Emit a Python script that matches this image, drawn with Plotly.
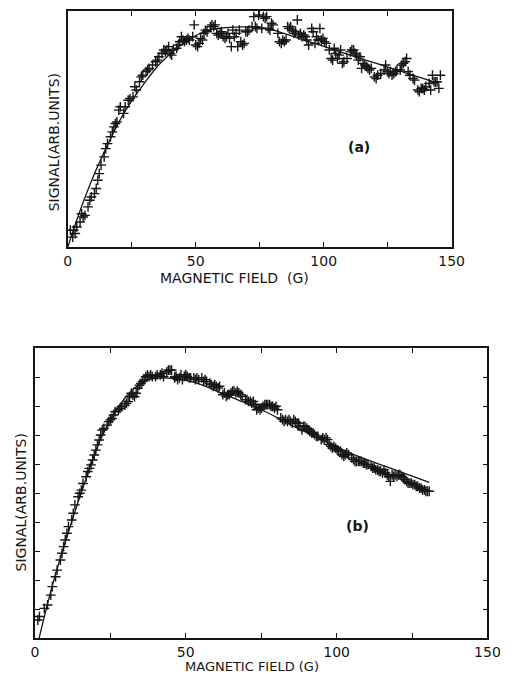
import plotly.graph_objects as go

# ---------------- panel (a) ----------------
field_a = [1.0,2.3,2.9,1.9,3.5,4.8,5.4,6.7,6.0,7.9,
           8.6,9.2,10.4,11.1,11.7,12.3,13.0,14.2,14.8,15.5,
           16.7,17.4,18.0,18.6,19.2,19.9,20.5,21.8,22.4,23.6,
           24.3,25.5,26.2,26.8,28.0,28.7,29.3,30.6,31.2,31.8,
           33.1,34.3,35.0,35.6,36.8,37.5,38.1,38.7,39.4,40.0,
           40.6,41.2,42.5,43.1,43.8,44.4,45.0,45.6,46.3,46.9,
           47.5,48.8,49.4,50.0,50.7,51.3,51.9,52.6,53.2,53.8,
           54.4,55.7,56.3,57.0,57.6,58.2,58.8,59.5,60.1,60.7,
           61.4,62.0,62.6,63.2,63.9,64.5,65.1,65.8,66.4,67.0,
           67.6,68.3,68.9,69.5,70.2,70.8,72.0,72.7,73.3,73.9,
           74.6,75.8,76.4,77.1,77.7,78.3,79.0,79.6,80.2,82.1,
           82.7,83.4,84.0,84.6,85.3,85.9,86.5,87.1,87.8,88.4,
           89.0,89.7,90.3,90.9,91.5,92.2,92.8,93.4,94.1,95.3,
           95.9,96.6,97.2,97.8,98.5,99.1,99.7,100.3,101.0,102.2,
           102.9,103.5,104.1,104.7,105.4,106.0,106.6,107.3,107.9,109.1,
           110.4,111.0,111.7,112.3,112.9,113.5,114.2,114.8,115.4,116.1,
           116.7,117.3,117.9,118.6,119.8,120.5,121.1,122.3,123.6,124.2,
           124.9,125.5,126.1,126.7,127.4,128.0,128.6,129.9,130.5,131.1,
           131.8,132.4,133.0,133.7,134.9,135.5,136.8,137.4,138.1,138.7,
           139.3,139.9,141.2,141.8,142.5,143.1,143.7,144.3,145.0,145.6]
signal_a = [7.1,7.1,5.7,4.2,8.5,10.6,14.1,13.4,12.7,17.0,
            19.8,21.2,22.6,24.8,28.3,31.1,34.7,38.2,41.7,43.8,
            46.7,48.8,50.9,52.3,53.0,58.0,59.4,56.6,59.4,62.2,
            62.9,63.6,67.9,66.5,70.0,72.1,72.8,74.3,75.0,75.7,
            77.1,78.5,79.2,80.6,82.0,83.5,82.7,83.5,84.9,82.0,
            81.3,83.5,84.2,85.6,87.0,89.1,87.7,87.0,87.7,88.4,
            87.7,89.1,94.1,85.6,84.9,86.3,88.4,87.7,90.5,91.9,
            91.2,93.4,94.1,93.4,94.1,90.5,89.8,90.5,91.2,89.1,
            88.4,89.1,90.5,88.4,84.9,91.9,89.1,90.5,84.9,91.9,
            87.0,85.6,86.3,91.2,91.2,91.9,93.4,97.6,93.4,92.6,
            98.3,92.6,97.6,96.9,97.6,92.6,91.9,94.8,94.1,90.5,
            87.0,86.3,87.7,87.0,87.7,93.4,92.6,93.4,91.9,90.5,
            91.2,96.2,89.8,90.5,89.1,89.8,89.1,87.7,85.6,92.6,
            91.2,86.3,89.1,87.7,92.6,87.7,88.4,87.0,86.3,83.5,
            79.9,79.2,84.2,82.0,79.9,81.3,83.5,77.8,78.5,79.9,
            82.7,83.5,83.5,82.0,81.3,79.2,80.6,75.7,77.8,77.1,
            76.4,75.7,75.0,75.7,72.1,71.4,72.8,73.5,75.0,77.1,
            74.3,73.5,74.3,72.8,73.5,74.3,75.0,75.0,77.1,77.8,
            78.5,79.9,74.3,72.8,71.4,70.7,66.5,65.8,67.2,67.2,
            66.5,67.9,69.3,66.5,72.8,70.0,70.0,70.0,67.2,72.8]
fit_a_field = [0,5,10,15,20,25,30,35,40,45,50,55,60,65,70,75,80,90,100,110,120,130,140,145]
fit_a_signal = [0,16,30,42,53,62,69.5,76.5,81.8,86.2,89.6,91.8,92.8,93.2,93.3,93.0,
                92.0,88.5,85.0,81.4,78.0,74.5,71.0,69.3]

# ---------------- panel (b) ----------------
field_b_rise = [0.96,1.50,3.10,4.17,5.24,5.77,6.84,7.37,8.44,8.97,
                9.51,10.04,10.58,11.11,12.18,12.71,13.25,14.32,14.85,15.38,
                15.92,16.99,17.52,18.06,18.59,19.12,19.66,20.19,20.73,21.26,
                21.79,22.33,22.86,23.93,24.47,25.00,25.53,26.07,26.60,27.67,
                28.21,28.74,29.81,30.34,30.88,31.41,31.94,32.48,33.01,33.55,
                34.08,34.62,35.15,35.68,36.22,36.75,37.29,37.82,38.35,38.89,
                39.96,40.49,41.56,42.09,42.63,43.70,44.23,44.76,45.30,46.37]
signal_b_rise = [0.62,0.74,1.02,1.14,1.48,1.77,2.11,2.34,2.69,2.92,
                 3.15,3.38,3.61,3.84,4.07,4.30,4.59,4.87,4.99,5.10,
                 5.33,5.56,5.74,5.85,5.97,6.14,6.31,6.48,6.66,6.83,
                 7.00,7.17,7.23,7.34,7.46,7.52,7.57,7.69,7.80,7.86,
                 7.92,7.98,8.03,8.09,8.15,8.32,8.44,8.38,8.32,8.44,
                 8.61,8.72,8.78,8.84,8.90,9.01,9.07,9.01,9.07,9.01,
                 9.01,9.07,9.07,9.13,9.01,9.18,9.24,9.24,9.24,9.01]
field_b_tail = [46.3,46.8,47.3,47.9,48.4,48.9,49.5,50.0,50.5,51.1,
                51.6,52.7,53.2,53.7,54.3,55.3,55.9,56.4,56.9,58.0,
                58.5,59.1,59.6,60.1,60.7,61.2,62.3,62.8,63.4,63.9,
                64.4,65.0,65.5,66.0,66.6,67.1,67.6,68.2,68.7,69.8,
                70.3,70.8,71.4,71.9,72.4,73.0,73.5,74.0,74.6,75.1,
                75.6,76.2,76.7,77.2,77.8,78.3,78.8,79.4,79.9,80.4,
                81.5,82.1,82.6,83.1,83.7,84.2,84.7,85.3,85.8,86.3,
                86.9,87.4,87.9,88.5,89.0,89.5,90.1,90.6,91.1,91.7,
                92.2,92.7,93.3,93.8,94.9,95.4,95.9,96.5,97.0,97.5,
                98.1,98.6,99.1,99.7,100.2,100.7,101.3,101.8,102.4,102.9,
                103.4,104.0,105.0,105.6,106.1,106.6,107.2,107.7,108.2,108.8,
                109.3,109.8,110.4,111.4,112.0,112.5,113.0,113.6,114.1,114.6,
                115.2,115.7,116.2,116.8,117.3,117.8,118.4,118.9,119.4,120.0,
                120.5,121.0,121.6,122.1,122.6,123.2,123.7,124.3,124.8,125.3,
                125.9,126.4,126.9,127.5,128.0,128.5,129.1,129.6,130.1,130.7]
signal_b_tail = [8.97,9.02,8.91,8.97,9.08,8.91,9.02,9.08,9.02,8.97,
                 8.97,8.97,8.91,8.97,8.91,8.97,8.85,8.91,8.85,8.79,
                 8.74,8.68,8.74,8.68,8.62,8.68,8.39,8.45,8.33,8.39,
                 8.39,8.45,8.51,8.51,8.45,8.51,8.45,8.39,8.33,8.22,
                 8.22,8.16,8.16,8.10,8.16,8.05,7.87,7.93,7.87,7.93,
                 7.99,8.05,8.05,8.05,8.05,7.99,7.99,7.93,7.99,7.87,
                 7.59,7.53,7.47,7.53,7.47,7.53,7.47,7.41,7.53,7.47,
                 7.41,7.41,7.30,7.18,7.30,7.30,7.24,7.18,7.13,7.07,
                 7.07,7.01,6.95,6.95,6.84,6.90,6.84,6.90,6.84,6.67,
                 6.61,6.55,6.61,6.55,6.49,6.44,6.44,6.32,6.26,6.32,
                 6.38,6.32,6.21,6.15,6.09,6.09,6.09,6.09,6.09,6.03,
                 6.03,5.98,5.98,5.92,5.86,5.86,5.80,5.80,5.75,5.75,
                 5.69,5.80,5.69,5.63,5.57,5.40,5.63,5.57,5.63,5.57,
                 5.63,5.63,5.57,5.52,5.46,5.40,5.34,5.34,5.34,5.29,
                 5.29,5.23,5.23,5.17,5.17,5.11,5.11,5.06,5.06,5.06]
fit_b_field = [1.4,5.7,11,16.3,21.7,27,32.4,37.7,43,48.4,53.7,64.4,75.1,85.8,96.5,107.2,117.8,130.7]
fit_b_signal = [0,1.78,3.62,5.3,6.84,7.87,8.56,8.91,8.97,8.91,8.79,8.33,7.87,7.30,6.78,6.26,5.86,5.37]

x_tickvals = [0, 25, 50, 75, 100, 125, 150]
x_ticktext = ["0", "", "50", "", "100", "", "150"]
b_y_tickvals = [1, 2, 3, 4, 5, 6, 7, 8, 9]

FONT = "DejaVu Sans"
INK = "#151515"
marker = dict(symbol="cross-thin", size=7, line=dict(width=1.4, color=INK), color=INK)

fig = go.Figure()
fig.add_trace(go.Scatter(x=field_a, y=signal_a, mode="markers", marker=marker,
                         xaxis="x", yaxis="y", showlegend=False))
fig.add_trace(go.Scatter(x=fit_a_field, y=fit_a_signal, mode="lines", line=dict(color=INK, width=1.3, shape="spline"),
                         xaxis="x", yaxis="y", showlegend=False))
fig.add_trace(go.Scatter(x=field_b_rise + field_b_tail, y=signal_b_rise + signal_b_tail, mode="markers",
                         marker=marker, xaxis="x2", yaxis="y2", showlegend=False))
fig.add_trace(go.Scatter(x=fit_b_field, y=fit_b_signal, mode="lines", line=dict(color=INK, width=1.3, shape="spline"),
                         xaxis="x2", yaxis="y2", showlegend=False))

W, H = 513, 674
axis_common = dict(showline=True, linecolor=INK, linewidth=1.5, showgrid=False, zeroline=False,
                   tickcolor=INK, tickfont=dict(family=FONT, size=14, color=INK))

fig.update_layout(
    width=W, height=H, margin=dict(l=0, r=0, t=0, b=0),
    paper_bgcolor="white", plot_bgcolor="white",
    xaxis=dict(domain=[66/W, 463/W], range=[0, 150], anchor="y", mirror="ticks", ticks="inside",
               ticklen=5, tickwidth=1.2, tickvals=x_tickvals, ticktext=x_ticktext, **axis_common),
    yaxis=dict(domain=[1-247/H, 1-11/H], range=[0, 100], anchor="x", mirror=True, ticks="",
               showticklabels=False, **axis_common),
    xaxis2=dict(domain=[32/W, 500/W], range=[0, 150], anchor="y2", mirror="ticks", ticks="inside",
                ticklen=5, tickwidth=1.2, tickvals=x_tickvals, ticktext=x_ticktext, **axis_common),
    yaxis2=dict(domain=[1-638/H, 1-348/H], range=[0, 10], anchor="x2", mirror="ticks", ticks="inside",
                ticklen=5, tickwidth=1.2, tickvals=b_y_tickvals, showticklabels=False, **axis_common),
)

def label(text, px, py, size=14, angle=0, bold=False):
    fig.add_annotation(text=("<b>%s</b>" % text) if bold else text, x=px/W, y=1-py/H,
                       xref="paper", yref="paper", showarrow=False, textangle=angle,
                       xanchor="center", yanchor="middle",
                       font=dict(family=FONT, size=size, color=INK))

label("MAGNETIC FIELD\u00a0\u00a0(G)", 238, 278)
label("SIGNAL(ARB.UNITS)", 52, 142, angle=-90)
label("(a)", 367, 147, size=14, bold=True)
label("MAGNETIC FIELD (G)", 257, 666, size=13)
label("SIGNAL(ARB.UNITS)", 18, 502, angle=-90)
label("(b)", 366, 526, size=14, bold=True)

fig.write_html("out.html", config={"displayModeBar": False},
               post_script="document.body.style.margin='0';document.body.style.overflow='hidden';")
